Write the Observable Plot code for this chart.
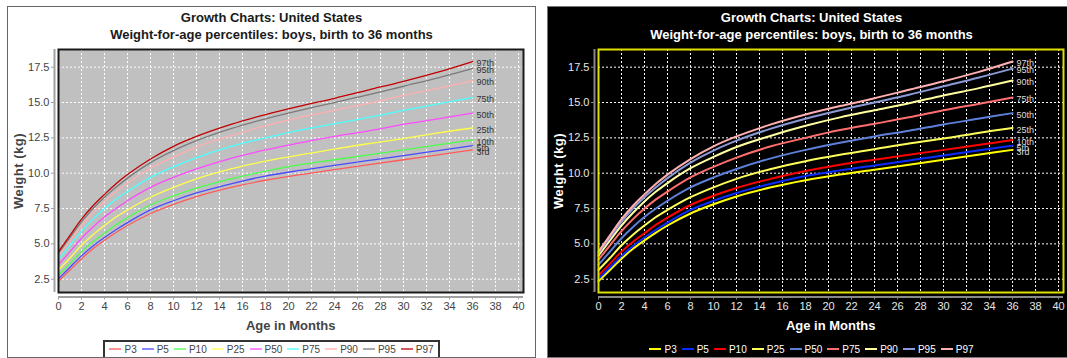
<!DOCTYPE html>
<html><head><meta charset="utf-8">
<script src="https://cdn.jsdelivr.net/npm/d3@7"></script>
<script src="https://cdn.jsdelivr.net/npm/@observablehq/plot@0.6"></script>
<style>
html,body{margin:0;padding:0;background:#fff;}
body{width:1067px;height:358px;overflow:hidden;position:relative;font-family:Arial,"Liberation Sans",sans-serif;}
.panel{position:absolute;top:6px;height:352px;box-sizing:border-box;overflow:hidden;}
.t{position:absolute;left:0;width:527px;text-align:center;font-weight:bold;font-size:13px;line-height:16px;white-space:nowrap;}
.plot{position:absolute;left:0;top:33px;}
.ylab{position:absolute;width:150px;height:16px;line-height:16px;left:-64px;top:155.5px;text-align:center;font-weight:bold;font-size:13px;transform:rotate(-90deg);letter-spacing:0.5px;}
.xlab{position:absolute;left:132.7px;width:300px;top:311px;height:16px;line-height:16px;text-align:center;font-weight:bold;font-size:13px;}
.legwrap{position:absolute;left:0;width:527px;top:330px;text-align:center;}
.leg{display:inline-flex;align-items:center;height:19px;box-sizing:border-box;padding:0 4px;font-size:10px;}
.item{display:inline-flex;align-items:center;margin-right:5px;}
.item:last-child{margin-right:0;}
.item svg{margin-right:3px;}
</style>
</head><body>
<script>
// Age in months
const ages = [0, 1, 2, 3, 4, 5, 6, 8, 10, 12, 15, 18, 21, 24, 27, 30, 33, 36];
// Weight (kg) per percentile
const p3  = [2.36, 3.15, 3.95, 4.65, 5.25, 5.80, 6.30, 7.15, 7.80, 8.35, 9.00, 9.50, 9.90, 10.25, 10.60, 10.95, 11.30, 11.65];
const p5  = [2.53, 3.35, 4.15, 4.85, 5.45, 6.00, 6.50, 7.40, 8.05, 8.60, 9.25, 9.80, 10.20, 10.55, 10.90, 11.25, 11.60, 11.95];
const p10 = [2.77, 3.60, 4.45, 5.15, 5.75, 6.35, 6.85, 7.75, 8.40, 8.95, 9.60, 10.15, 10.60, 10.95, 11.30, 11.65, 12.00, 12.35];
const p25 = [3.15, 4.00, 4.90, 5.65, 6.30, 6.90, 7.40, 8.30, 9.00, 9.60, 10.30, 10.85, 11.30, 11.70, 12.10, 12.45, 12.85, 13.20];
const p50 = [3.53, 4.45, 5.40, 6.20, 6.90, 7.50, 8.05, 9.00, 9.70, 10.30, 11.05, 11.65, 12.15, 12.60, 13.00, 13.45, 13.85, 14.25];
const p75 = [3.88, 4.90, 5.90, 6.75, 7.50, 8.15, 8.70, 9.70, 10.45, 11.10, 11.90, 12.50, 13.05, 13.50, 13.95, 14.45, 14.90, 15.35];
const p90 = [4.17, 5.25, 6.30, 7.20, 8.00, 8.70, 9.30, 10.35, 11.15, 11.85, 12.65, 13.35, 13.95, 14.45, 14.95, 15.50, 16.00, 16.55];
const p95 = [4.34, 5.45, 6.55, 7.50, 8.30, 9.00, 9.65, 10.75, 11.60, 12.30, 13.15, 13.85, 14.45, 15.00, 15.55, 16.15, 16.75, 17.40];
const p97 = [4.45, 5.60, 6.75, 7.70, 8.50, 9.25, 9.90, 11.00, 11.90, 12.60, 13.45, 14.15, 14.75, 15.30, 15.90, 16.50, 17.15, 17.90];

const seriesNames = ["P3", "P5", "P10", "P25", "P50", "P75", "P90", "P95", "P97"];
const seriesValues = [p3, p5, p10, p25, p50, p75, p90, p95, p97];
const endLabels = ["3rd", "5th", "10th", "25th", "50th", "75th", "90th", "95th", "97th"];
const xTicks = [0, 2, 4, 6, 8, 10, 12, 14, 16, 18, 20, 22, 24, 26, 28, 30, 32, 34, 36, 38, 40];
const yTicks = [2.5, 5, 7.5, 10, 12.5, 15, 17.5];
const xDomain = [0, 40.43];
const yDomain = [1.56, 18.75];

const titleLine1 = "Growth Charts: United States";
const titleLine2 = "Weight-for-age percentiles: boys, birth to 36 months";
const xTitle = "Age in Months";
const yTitle = "Weight (kg)";

const themes = [
  {
    left: 7, width: 529, pageBg: "#ffffff", border: "1px solid #666",
    plotBg: "#c0c0c0", frame: "#1a1a1a", grid: "#ffffff", axis: "#a0a0a0",
    tick: "#444444", title: "#1a1a1a", axisTitle: "#444444", endText: "#333333",
    lw: 1.3, legendBorder: "2px solid #333", legendText: "#444444",
    colors: ["#ff5a5a", "#4a4aff", "#4aff4a", "#ffff4a", "#ff4aff", "#4affff", "#ffafaf", "#7a7a7a", "#c00000"]
  },
  {
    left: 547, width: 529, pageBg: "#000000", border: "1px solid #777",
    plotBg: "#000000", frame: "#e0e000", grid: "#ffffff", axis: "#888888",
    tick: "#e6e6e6", title: "#ffffff", axisTitle: "#ffffff", endText: "#dddddd",
    lw: 2, legendBorder: "none", legendText: "#ffffff",
    colors: ["#ffff00", "#0a2cff", "#ff0000", "#ffff5a", "#5c7fd8", "#ff6e6e", "#ffffa0", "#8a9ad6", "#ffb0b0"]
  }
];

const rows = seriesNames.flatMap((s, i) => ages.map((a, j) => ({series: s, age: a, w: seriesValues[i][j]})));
const last = ages.length - 1;
const ends = seriesNames.map((s, i) => ({series: s, age: ages[last], w: seriesValues[i][last], label: endLabels[i]}));

function chart(t) {
  return Plot.plot({
    width: 527, height: 295,
    marginLeft: 50, marginRight: 12, marginTop: 9, marginBottom: 43,
    style: {background: "transparent", fontFamily: "Arial, 'Liberation Sans', sans-serif", fontSize: "11px", color: t.tick},
    x: {domain: xDomain},
    y: {domain: yDomain},
    color: {domain: seriesNames, range: t.colors},
    marks: [
      Plot.frame({fill: t.plotBg}),
      Plot.gridX(xTicks, {stroke: t.grid, strokeOpacity: 1, strokeWidth: 1, strokeDasharray: "2,2"}),
      Plot.gridY(yTicks, {stroke: t.grid, strokeOpacity: 1, strokeWidth: 1, strokeDasharray: "2,2"}),
      Plot.line(rows, {x: "age", y: "w", z: "series", stroke: "series", strokeWidth: t.lw, curve: "monotone-x"}),
      Plot.text(ends, {x: "age", y: "w", text: "label", textAnchor: "start", dx: 4, dy: 2, fontSize: 9, fill: t.endText}),
      Plot.frame({stroke: t.frame, strokeWidth: 2}),
      Plot.ruleX([xDomain[0]], {stroke: t.axis, strokeWidth: 2, dx: -4}),
      Plot.ruleY([yDomain[0]], {stroke: t.axis, strokeWidth: 2, dy: 4.5}),
      Plot.axisX(xTicks, {tickSize: 3, tickPadding: 2, dy: 4.5, label: null, stroke: t.axis, fill: t.tick, fontSize: 11}),
      Plot.axisY(yTicks, {tickSize: 3, tickPadding: 2, dx: -4, label: null, tickFormat: d3.format(".1f"), stroke: t.axis, fill: t.tick, fontSize: 11})
    ]
  });
}

for (const t of themes) {
  const p = document.createElement("div");
  p.className = "panel";
  p.style.left = t.left + "px";
  p.style.width = t.width + "px";
  p.style.background = t.pageBg;
  p.style.border = t.border;
  document.body.appendChild(p);

  const t1 = document.createElement("div");
  t1.className = "t"; t1.style.top = "3px"; t1.style.color = t.title; t1.textContent = titleLine1;
  const t2 = document.createElement("div");
  t2.className = "t"; t2.style.top = "20px"; t2.style.color = t.title; t2.textContent = titleLine2;
  p.appendChild(t1); p.appendChild(t2);

  const holder = document.createElement("div");
  holder.className = "plot";
  holder.appendChild(chart(t));
  p.appendChild(holder);

  const yl = document.createElement("div");
  yl.className = "ylab"; yl.style.color = t.axisTitle; yl.textContent = yTitle;
  p.appendChild(yl);
  const xl = document.createElement("div");
  xl.className = "xlab"; xl.style.color = t.axisTitle; xl.textContent = xTitle;
  p.appendChild(xl);

  const lw = document.createElement("div");
  lw.className = "legwrap";
  const leg = document.createElement("div");
  leg.className = "leg";
  leg.style.border = t.legendBorder;
  leg.style.color = t.legendText;
  seriesNames.forEach((s, i) => {
    const it = document.createElement("span");
    it.className = "item";
    it.innerHTML = `<svg width="12" height="4"><line x1="0" x2="12" y1="2" y2="2" stroke="${t.colors[i]}" stroke-width="${t.lw}"/></svg><span>${s}</span>`;
    leg.appendChild(it);
  });
  lw.appendChild(leg);
  p.appendChild(lw);
}
</script>
</body></html>
